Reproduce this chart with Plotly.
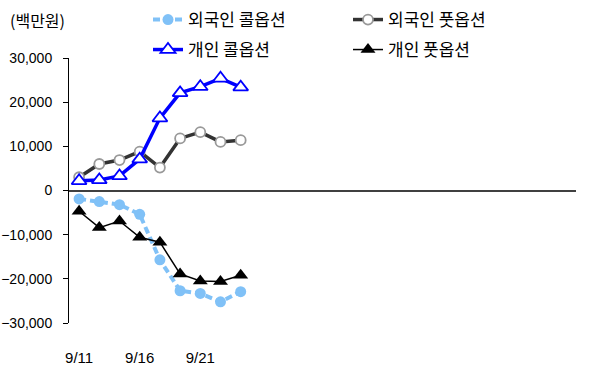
import plotly.graph_objects as go

dates = ["9/11", "9/14", "9/15", "9/16", "9/17", "9/18", "9/21", "9/22", "9/23"]
tick_labels = ["9/11", "9/16", "9/21"]

foreign_call = [-1900, -2500, -3200, -5400, -15700, -22700, -23300, -25200, -22900]
foreign_put = [3000, 6000, 6900, 8800, 5200, 11800, 13200, 11000, 11400]
indiv_call = [2200, 2400, 3300, 7100, 16400, 22100, 23500, 25400, 23400]
indiv_put = [-4700, -8400, -6900, -10600, -11700, -18900, -20500, -20600, -19200]

FONT = "Liberation Sans, Arial, Noto Sans CJK KR, sans-serif"
KFONT = "Noto Sans CJK KR, Liberation Sans, sans-serif"

W, H = 595, 365
ML, MR, MT, MB = 69, 19, 58, 42
PW, PH = W - ML - MR, H - MT - MB

fig = go.Figure()

fig.add_trace(go.Scatter(
    x=dates, y=foreign_call, name="외국인 콜옵션", mode="lines+markers",
    line=dict(color="#80C1F7", width=4, dash="7px,4px"),
    marker=dict(symbol="circle", size=11, color="#80C1F7", line=dict(width=0)),
    legend="legend",
))
fig.add_trace(go.Scatter(
    x=dates, y=foreign_put, name="외국인 풋옵션", mode="lines+markers",
    line=dict(color="#333333", width=3.5),
    marker=dict(symbol="circle", size=10, color="white", line=dict(color="#999999", width=1.8)),
    legend="legend",
))
fig.add_trace(go.Scatter(
    x=dates, y=indiv_call, name="개인 콜옵션", mode="lines+markers",
    line=dict(color="#0000FF", width=3.5),
    marker=dict(symbol="triangle-up", size=13, color="white", line=dict(color="#0000FF", width=1.8)),
    legend="legend2",
))
fig.add_trace(go.Scatter(
    x=dates, y=indiv_put, name="개인 풋옵션", mode="lines+markers",
    line=dict(color="#000000", width=1.5),
    marker=dict(symbol="triangle-up", size=13, color="#000000", line=dict(width=0)),
    legend="legend2",
))

legend_common = dict(
    orientation="h", xref="container", yref="container",
    xanchor="left", yanchor="middle",
    font=dict(family=KFONT, size=17, color="#000000"),
    entrywidth=155, entrywidthmode="pixels",
    bgcolor="rgba(0,0,0,0)", borderwidth=0, itemclick=False,
)

fig.update_layout(
    width=W, height=H,
    margin=dict(l=ML, r=MR, t=MT, b=MB, autoexpand=False),
    paper_bgcolor="white", plot_bgcolor="white",
    font=dict(family=FONT, size=14, color="#000000"),
    showlegend=True,
    legend=dict(legend_common, x=148 / W, y=1 - 20 / H),
    legend2=dict(legend_common, x=148 / W, y=1 - 50 / H),
    xaxis=dict(
        type="category", categoryorder="array", categoryarray=dates,
        range=[-0.5, 24.6],
        tickmode="array", tickvals=tick_labels, ticktext=tick_labels,
        showgrid=False, showline=False, zeroline=False,
        ticks="", ticklabelstandoff=24,
        tickfont=dict(family=FONT, size=15),
    ),
    yaxis=dict(
        range=[-30000, 30000], tickvals=[-30000, -20000, -10000, 0, 10000, 20000, 30000],
        tickformat=",d", showgrid=False,
        showline=True, linecolor="#000000", linewidth=1,
        ticks="outside", ticklen=5, tickcolor="#000000", tickwidth=1,
        ticklabelstandoff=8,
        zeroline=True, zerolinecolor="#404040", zerolinewidth=1.5,
        tickfont=dict(family=FONT, size=14),
    ),
    annotations=[dict(
        text="(백만원)", xref="paper", yref="paper",
        x=(8 - ML) / PW, y=(H - MB - 20) / PH, xanchor="left", yanchor="middle",
        showarrow=False, font=dict(family=KFONT, size=16, color="#000000"),
    )],
)

fig.write_html("out.html")
